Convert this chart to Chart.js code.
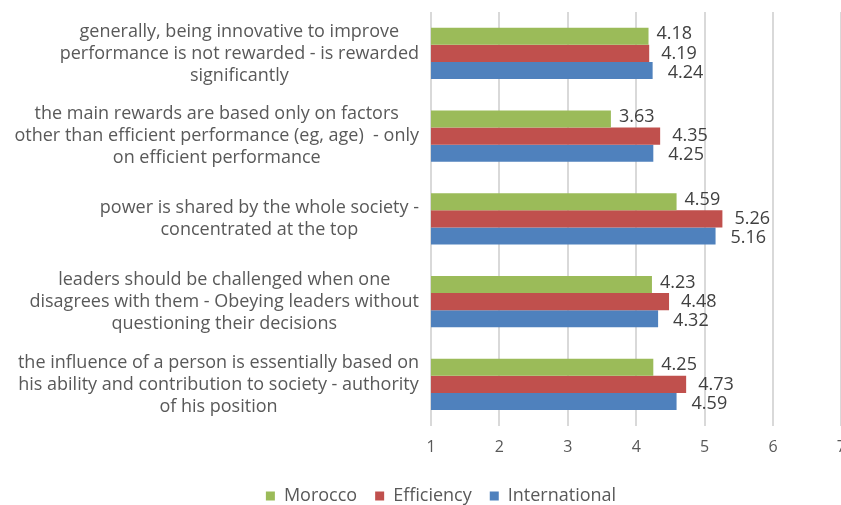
<!DOCTYPE html>
<html>
<head>
<meta charset="utf-8">
<script src="https://cdn.jsdelivr.net/npm/chart.js@4.4.0/dist/chart.umd.min.js"></script>
<style>
  html, body { margin: 0; padding: 0; background: #fff; overflow: hidden; }
  #wrap { width: 858px; height: 505px; position: relative; }
</style>
</head>
<body>
<div id="wrap"><canvas id="myChart"></canvas></div>
<script>
// category labels, top to bottom, already split in lines
var categories = [
  ['generally, being innovative to improve', 'performance is not rewarded - is rewarded', 'significantly'],
  ['the main rewards are based only on factors', 'other than efficient performance (eg, age)  - only', 'on efficient performance'],
  ['power is shared by the whole society -', 'concentrated at the top'],
  ['leaders should be challenged when one', 'disagrees with them - Obeying leaders without', 'questioning their decisions'],
  ['the influence of a person is essentially based on', 'his ability and contribution to society - authority', 'of his position']
];
var seriesNames = ['Morocco', 'Efficiency', 'International'];
var morocco = [4.18, 3.63, 4.59, 4.23, 4.25];
var efficiency = [4.19, 4.35, 5.26, 4.48, 4.73];
var international = [4.24, 4.25, 5.16, 4.32, 4.59];
var xTicks = [1, 2, 3, 4, 5, 6, 7];

var FONT = '"Open Sans", "Noto Sans", sans-serif';

// draws the wrapped category labels (each block centred on itself, right aligned)
var catLabels = {
  id: 'catLabels',
  afterDraw: function(chart) {
    var ctx = chart.ctx;
    var y = chart.scales.y;
    var right = chart.chartArea.left - 12;
    var lh = 22;
    ctx.save();
    ctx.font = '18px ' + FONT;
    ctx.fillStyle = '#595959';
    ctx.textAlign = 'center';
    ctx.textBaseline = 'middle';
    categories.forEach(function(lines, i) {
      var w = 0;
      lines.forEach(function(l) { w = Math.max(w, ctx.measureText(l).width); });
      var cx = right - w / 2;
      var cy = y.getPixelForValue(i);
      var top = cy - (lines.length - 1) * lh / 2;
      lines.forEach(function(l, k) { ctx.fillText(l, cx, top + k * lh); });
    });
    ctx.restore();
  }
};

// value labels at bar ends
var valLabels = {
  id: 'valLabels',
  afterDatasetsDraw: function(chart) {
    var ctx = chart.ctx;
    var dx = [8, 12, 15], dy = [-2, 0, 2];
    ctx.save();
    ctx.font = '18px ' + FONT;
    ctx.fillStyle = '#404040';
    ctx.textAlign = 'left';
    ctx.textBaseline = 'middle';
    chart.data.datasets.forEach(function(ds, d) {
      chart.getDatasetMeta(d).data.forEach(function(bar, i) {
        ctx.fillText(ds.data[i].toFixed(2), bar.x + dx[d], bar.y + dy[d]);
      });
    });
    ctx.restore();
  }
};

const config = {
  type: 'bar',
  data: {
    labels: categories,
    datasets: [
      { label: seriesNames[0], data: morocco, backgroundColor: '#9BBB59' },
      { label: seriesNames[1], data: efficiency, backgroundColor: '#C0504D' },
      { label: seriesNames[2], data: international, backgroundColor: '#4F81BD' }
    ]
  },
  options: {
    indexAxis: 'y',
    responsive: true,
    maintainAspectRatio: false,
    animation: false,
    barPercentage: 1,
    categoryPercentage: 0.62,
    layout: { padding: { top: 12, left: 24, right: 0, bottom: -10 } },
    scales: {
      x: {
        min: 1,
        max: 7,
        afterBuildTicks: function(s) { s.ticks = xTicks.map(function(v) { return { value: v }; }); },
        grid: { color: '#D9D9D9', lineWidth: 2, drawTicks: false },
        border: { display: false },
        ticks: { color: '#595959', font: { size: 16, family: FONT }, padding: 12 }
      },
      y: {
        grid: { display: false },
        border: { display: false },
        ticks: { display: false },
        afterFit: function(s) { s.width = 407; }
      }
    },
    plugins: {
      legend: {
        position: 'bottom',
        labels: {
          color: '#595959',
          font: { size: 18, family: FONT },
          usePointStyle: true,
          pointStyle: 'rect',
          boxWidth: 9,
          boxHeight: 9,
          padding: 18
        }
      },
      tooltip: { enabled: false }
    }
  },
  plugins: [catLabels, valLabels]
};

var myChart = new Chart(document.getElementById('myChart'), config);
</script>
</body>
</html>
